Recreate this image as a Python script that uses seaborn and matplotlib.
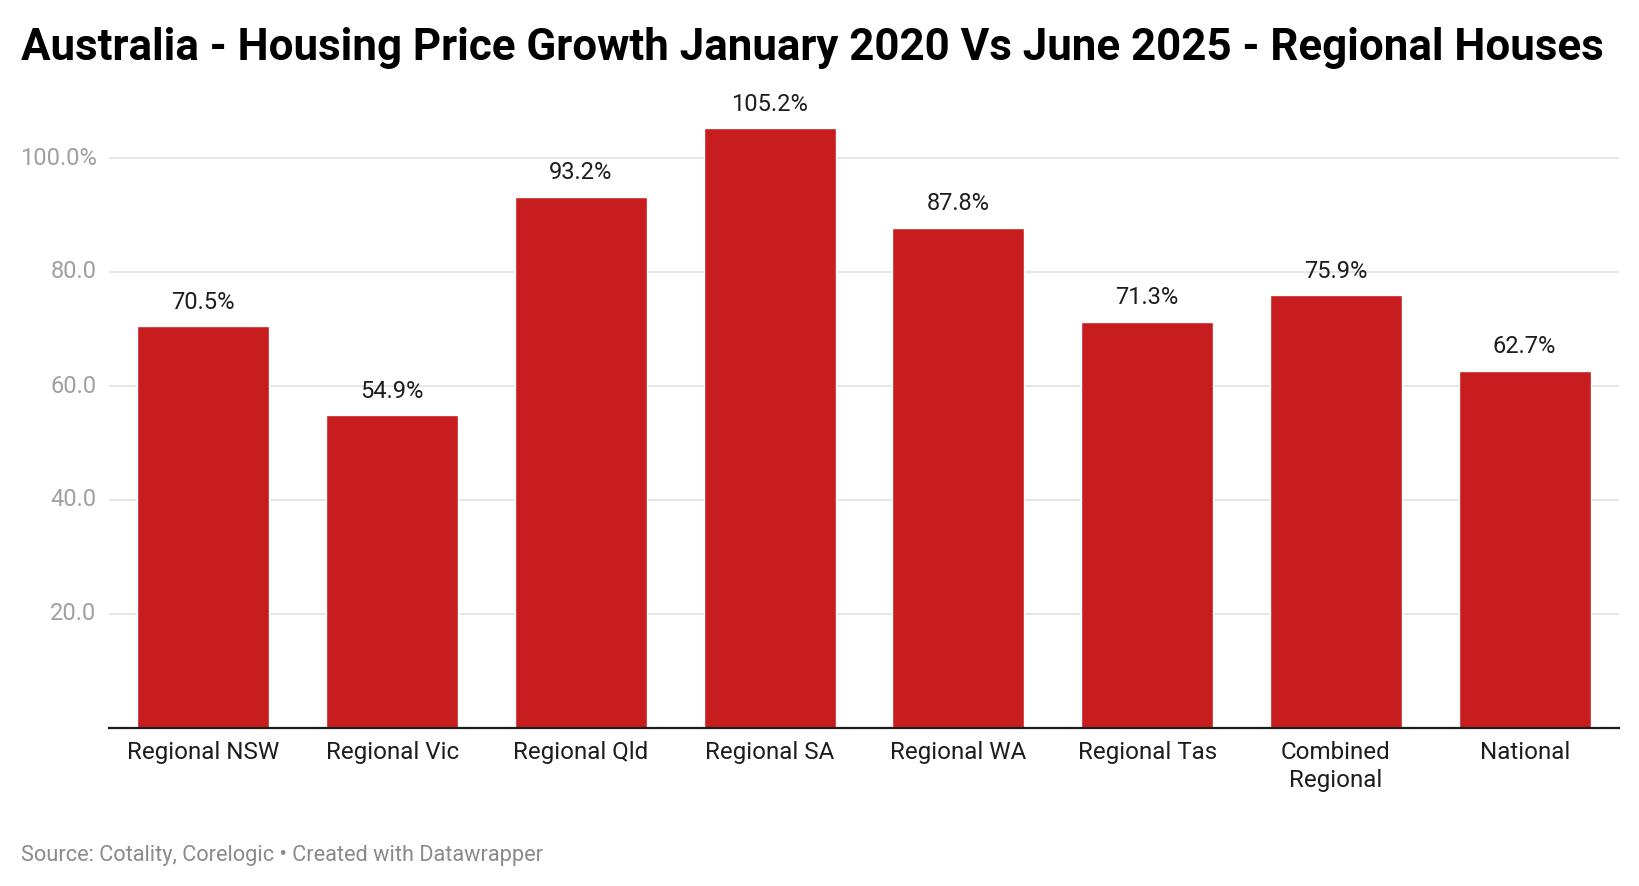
import matplotlib
matplotlib.use("Agg")
import matplotlib.pyplot as plt
import seaborn as sns
import pandas as pd

# === Data ===
regions = ["Regional NSW", "Regional Vic", "Regional Qld", "Regional SA",
           "Regional WA", "Regional Tas", "Combined\nRegional", "National"]
growth = [70.5, 54.9, 93.2, 105.2, 87.8, 71.3, 75.9, 62.7]
y_ticks = [20, 40, 60, 80, 100]
y_tick_labels = ["20.0", "40.0", "60.0", "80.0", "100.0%"]

df = pd.DataFrame({"region": regions, "growth": growth})

sns.set_style("white")
plt.rcParams["font.family"] = ["Roboto", "DejaVu Sans"]

W, H = 1640, 886
fig = plt.figure(figsize=(W / 100, H / 100), dpi=100)
# axes placed in pixel terms: x 109..1619, y baseline 728, 110 units ~ 627px
ax = fig.add_axes([109 / W, (H - 728) / H, (1619 - 109) / W, 627 / H])

sns.barplot(data=df, x="region", y="growth", color="#c81d1f", saturation=1,
            width=0.70, ax=ax, zorder=3)

ax.set_ylim(0, 110)
ax.set_xlim(-0.5, len(regions) - 0.5)
ax.set_yticks(y_ticks)
ax.set_yticklabels(y_tick_labels)
ax.grid(axis="y", color="#e3e3e3", linewidth=1.3, zorder=0)
ax.tick_params(axis="y", length=0, labelsize=17, labelcolor="#a0a0a0", pad=9)
ax.tick_params(axis="x", length=0, labelsize=17.4, labelcolor="#1d1d1d", pad=9.5)
for lab in ax.get_yticklabels():
    lab.set_verticalalignment("center")
for lab in ax.get_xticklabels():
    lab.set_linespacing(1.25)
ax.set_xlabel("")
ax.set_ylabel("")
for s in ["top", "right", "left"]:
    ax.spines[s].set_visible(False)
ax.spines["bottom"].set_color("#1d1d1d")
ax.spines["bottom"].set_linewidth(1.6)
ax.spines["bottom"].set_zorder(4)

# value labels above bars
for i, v in enumerate(growth):
    ax.annotate(f"{v:.1f}%", (i, v), xytext=(0, 9), textcoords="offset points",
                ha="center", va="bottom", fontsize=17, color="#1d1d1d")

fig.text(21 / W, 1 - 48 / H, "Australia - Housing Price Growth January 2020 Vs June 2025 - Regional Houses",
         fontsize=31.6, fontweight="bold", color="#000000", va="center", ha="left")
fig.text(21 / W, 1 - 856 / H, "Source: Cotality, Corelogic \u2022 Created with Datawrapper",
         fontsize=15.7, color="#8a8a8a", va="center", ha="left")

fig.savefig("out.png", dpi=100, facecolor="white")
